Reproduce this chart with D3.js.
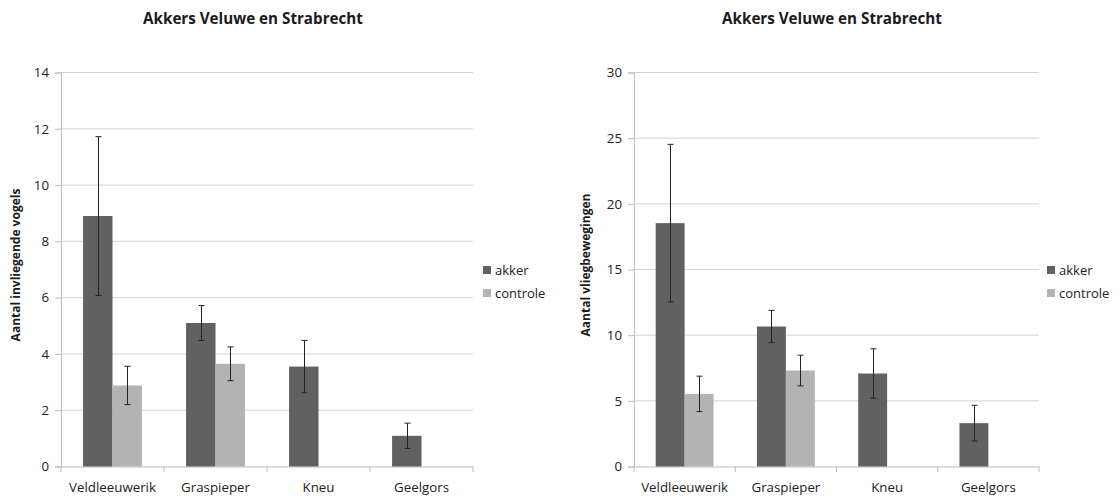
<!DOCTYPE html>
<html><head><meta charset="utf-8">
<script src="https://cdn.jsdelivr.net/npm/d3@7"></script>
<style>body{margin:0;background:#fff}svg{display:block}text{font-family:"Open Sans",sans-serif}</style>
</head><body>
<svg id="c" width="1120" height="496"></svg>
<script>
const categories = ["Veldleeuwerik", "Graspieper", "Kneu", "Geelgors"];
const seriesNames = ["akker", "controle"];
const colors = ["#616161", "#b3b3b3"];
const title = "Akkers Veluwe en Strabrecht";

// Chart 1
const akker1 = [8.9, 5.1, 3.55, 1.09];
const akker1Err = [2.82, 0.62, 0.93, 0.45];
const controle1 = [2.88, 3.65, null, null];
const controle1Err = [0.68, 0.6, null, null];
const yTicks1 = [0, 2, 4, 6, 8, 10, 12, 14];
const yLabel1 = "Aantal invliegende vogels";

// Chart 2
const akker2 = [18.53, 10.66, 7.08, 3.3];
const akker2Err = [6.0, 1.23, 1.88, 1.36];
const controle2 = [5.53, 7.31, null, null];
const controle2Err = [1.35, 1.17, null, null];
const yTicks2 = [0, 5, 10, 15, 20, 25, 30];
const yLabel2 = "Aantal vliegbewegingen";

const svg = d3.select("#c");

function drawChart(cfg) {
  const g = svg.append("g");
  const x = d3.scaleBand().domain(categories).range([cfg.x0, cfg.x1]);
  const y = d3.scaleLinear().domain([0, cfg.ymax]).range([466.5, 72.5]);
  const inner = d3.scaleBand().domain(seriesNames).range([0, x.bandwidth()]).paddingOuter(0.75).paddingInner(0);

  // title
  g.append("text").attr("x", cfg.titleX).attr("y", 24).attr("text-anchor", "middle")
    .attr("font-size", 15.2).attr("font-weight", "bold").attr("fill", "#1a1a1a").text(title);

  // gridlines
  g.append("g").selectAll("line").data(cfg.ticks.slice(1)).join("line")
    .attr("x1", cfg.x0).attr("x2", cfg.x1).attr("y1", d => y(d)).attr("y2", d => y(d))
    .attr("stroke", "#d4d4d4").attr("stroke-width", 1);

  // y axis
  const ya = g.append("g").attr("transform", `translate(${cfg.x0},0)`)
    .call(d3.axisLeft(y).tickValues(cfg.ticks).tickSize(6).tickPadding(6).tickFormat(d3.format("d")));
  ya.select(".domain").attr("stroke", "#bdbdbd");
  ya.selectAll(".tick line").attr("stroke", "#bdbdbd");
  ya.selectAll("text").attr("font-size", 13.3).attr("fill", "#222").attr("font-family", "Open Sans, sans-serif");

  // x axis
  const xa = g.append("g").attr("transform", "translate(0,466.5)")
    .call(d3.axisBottom(x).tickSize(0).tickPadding(16));
  xa.select(".domain").attr("stroke", "#bdbdbd");
  xa.selectAll("text").attr("font-size", 13.3).attr("fill", "#222").attr("font-family", "Open Sans, sans-serif");
  const bounds = categories.map(c => x(c)).concat([cfg.x1]);
  g.append("g").selectAll("line").data(bounds).join("line")
    .attr("x1", d => d).attr("x2", d => d).attr("y1", 466.5).attr("y2", 472)
    .attr("stroke", "#bdbdbd");

  // bars
  const series = [[cfg.akker, cfg.akkerErr], [cfg.controle, cfg.controleErr]];
  series.forEach(([vals, errs], si) => {
    const data = categories.map((c, i) => ({c, v: vals[i], e: errs[i]})).filter(d => d.v != null);
    g.append("g").selectAll("rect").data(data).join("rect")
      .attr("x", d => x(d.c) + inner(seriesNames[si]))
      .attr("width", inner.bandwidth())
      .attr("y", d => y(d.v)).attr("height", d => y(0) - y(d.v))
      .attr("fill", colors[si]);
    const eg = g.append("g").attr("stroke", "#222").attr("stroke-width", 1);
    data.forEach(d => {
      const cx = Math.round(x(d.c) + inner(seriesNames[si]) + inner.bandwidth() / 2) + 0.5;
      eg.append("line").attr("x1", cx).attr("x2", cx).attr("y1", y(d.v + d.e)).attr("y2", y(d.v - d.e));
      eg.append("line").attr("x1", cx - 3).attr("x2", cx + 3).attr("y1", y(d.v + d.e)).attr("y2", y(d.v + d.e));
      eg.append("line").attr("x1", cx - 3).attr("x2", cx + 3).attr("y1", y(d.v - d.e)).attr("y2", y(d.v - d.e));
    });
  });

  // y label
  g.append("text").attr("transform", `translate(${cfg.ylabX},${265}) rotate(-90)`)
    .attr("text-anchor", "middle").attr("font-size", 12).attr("font-weight", "bold").attr("fill", "#1a1a1a")
    .text(cfg.ylabel);

  // legend
  seriesNames.forEach((s, i) => {
    const ly = 270 + i * 23;
    g.append("rect").attr("x", cfg.legX).attr("y", ly - 4).attr("width", 8).attr("height", 8).attr("fill", colors[i]);
    g.append("text").attr("x", cfg.legX + 12).attr("y", ly + 4.8).attr("font-size", 13).attr("fill", "#222").text(s);
  });
}

drawChart({x0: 61, x1: 473, ymax: 14, ticks: yTicks1, akker: akker1, akkerErr: akker1Err,
  controle: controle1, controleErr: controle1Err, ylabel: yLabel1, titleX: 253, ylabX: 20, legX: 483});
drawChart({x0: 634, x1: 1039, ymax: 30, ticks: yTicks2, akker: akker2, akkerErr: akker2Err,
  controle: controle2, controleErr: controle2Err, ylabel: yLabel2, titleX: 832, ylabX: 590, legX: 1047});
</script>
</body></html>
